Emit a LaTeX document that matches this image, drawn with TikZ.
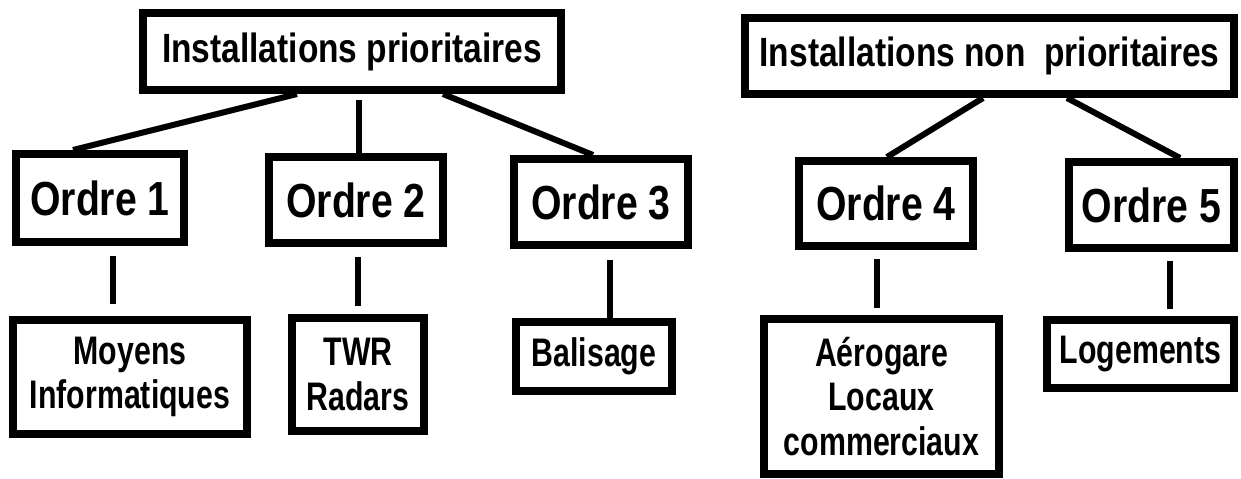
\documentclass[tikz,border=0pt]{standalone}
\usepackage{fontspec}
\newfontfamily\condfont[FakeStretch=0.82]{Liberation Sans}
\newfontfamily\narrowfont[FakeStretch=0.76]{Liberation Sans}
\tikzset{
  box/.style={draw=black, line width=8bp, fill=white, inner sep=0pt, align=center,
    font=\narrowfont\bfseries\fontsize{40}{45}\selectfont},
  ordre/.style={box, font=\condfont\bfseries\fontsize{48}{56}\selectfont},
  head/.style={box, font=\condfont\bfseries\fontsize{41}{48}\selectfont},
  link/.style={draw=black, line width=6bp},
  vlink/.style={draw=black, line width=5.5bp},
}
\begin{document}
\begin{tikzpicture}[x=1bp,y=-1bp]
\fill[white] (0,0) rectangle (1241,479);
\useasboundingbox (0,0) rectangle (1241,479);

% top level
\node[head, minimum width=418bp, minimum height=77bp] (P) at (352,51.5) {Installations prioritaires};
\node[head, minimum width=489bp, minimum height=76bp] (NP) at (989.5,56) {Installations non\ \ prioritaires};

% second level
\node[ordre, minimum width=168bp, minimum height=88bp] (O1) at (100,198) {Ordre 1};
\node[ordre, minimum width=174bp, minimum height=86bp] (O2) at (356,200) {Ordre 2};
\node[ordre, minimum width=174bp, minimum height=86bp] (O3) at (601,202) {Ordre 3};
\node[ordre, minimum width=174bp, minimum height=85bp] (O4) at (886,203.5) {Ordre 4};
\node[ordre, minimum width=165bp, minimum height=86bp] (O5) at (1151.5,205) {Ordre 5};

% third level
\node[box, minimum width=234bp, minimum height=114bp] (M) at (130,377) {Moyens\\Informatiques};
\node[box, minimum width=132bp, minimum height=113bp] (T) at (358,374.5) {TWR\\Radars};
\node[box, minimum width=156bp, minimum height=69bp] (B) at (594,356.5) {Balisage};
\node[box, minimum width=235bp, minimum height=155bp] (A) at (881.5,396.5) {Aérogare\\Locaux\\commerciaux};
\node[box, minimum width=187bp, minimum height=68bp] (L) at (1140.5,354) {Logements};

% connectors top -> second level
\draw[link] (P.south -| 297,0) -- (O1.north -| 73,0);
\draw[link, shorten <=6bp] (P.south -| 359,0) -- (O2.north -| 359,0);
\draw[link] (P.south -| 443,0) -- (O3.north -| 593,0);
\draw[link] (NP.south -| 983,0) -- (O4.north -| 887,0);
\draw[link] (NP.south -| 1067,0) -- (O5.north -| 1180,0);

% connectors second -> third level
\draw[vlink, shorten <=10bp, shorten >=12bp] (O1.south -| 113,0) -- (M.north -| 113,0);
\draw[vlink, shorten <=10bp, shorten >=8bp] (O2.south -| 358,0) -- (T.north -| 358,0);
\draw[vlink, shorten <=11bp] (O3.south -| 610,0) -- (B.north -| 610,0);
\draw[vlink, shorten <=9bp, shorten >=7bp] (O4.south -| 877,0) -- (A.north -| 877,0);
\draw[vlink, shorten <=9bp, shorten >=7bp] (O5.south -| 1170,0) -- (L.north -| 1170,0);
\end{tikzpicture}
\end{document}
